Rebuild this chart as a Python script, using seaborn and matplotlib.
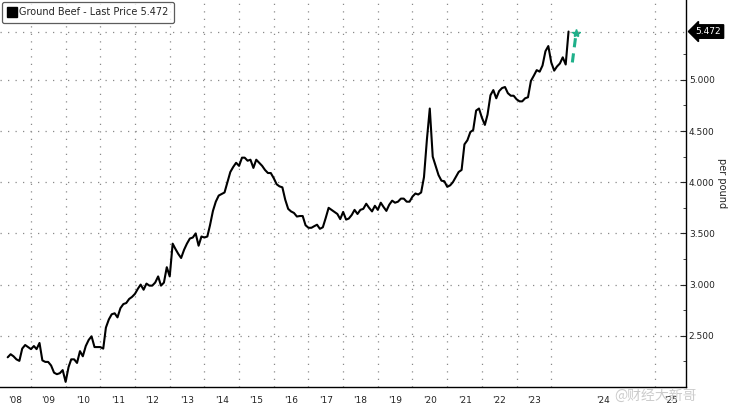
import pandas as pd
import matplotlib
matplotlib.use("Agg")
import matplotlib.pyplot as plt
import matplotlib.dates as mdates
from matplotlib.lines import Line2D
import seaborn as sns

# monthly average price, US city average, ground beef ($ per pound)
start_month = "2008-05-01"
beef_price = [
    2.29, 2.32, 2.30, 2.27, 2.255, 2.375, 2.41, 2.39, 2.37, 2.40, 2.37, 2.43,
    2.26, 2.245, 2.245, 2.21, 2.14, 2.125, 2.135, 2.165, 2.05, 2.195, 2.27, 2.27,
    2.235, 2.35, 2.30, 2.40, 2.46, 2.495, 2.39, 2.39, 2.39, 2.375, 2.58, 2.66,
    2.71, 2.72, 2.68, 2.77, 2.81, 2.82, 2.86, 2.88, 2.91, 2.96, 3.00, 2.95,
    3.01, 2.99, 2.99, 3.02, 3.08, 2.99, 3.02, 3.17, 3.08, 3.40, 3.35, 3.30,
    3.26, 3.34, 3.40, 3.45, 3.46, 3.50, 3.38, 3.47, 3.46, 3.47, 3.58, 3.72,
    3.81, 3.87, 3.885, 3.90, 4.00, 4.10, 4.15, 4.19, 4.16, 4.24, 4.24, 4.21,
    4.22, 4.14, 4.22, 4.19, 4.16, 4.12, 4.09, 4.09, 4.04, 3.98, 3.96, 3.95,
    3.83, 3.74, 3.715, 3.70, 3.665, 3.67, 3.67, 3.58, 3.555, 3.555, 3.57, 3.585,
    3.545, 3.56, 3.65, 3.75, 3.73, 3.71, 3.69, 3.64, 3.71, 3.635, 3.645, 3.68,
    3.73, 3.69, 3.73, 3.74, 3.79, 3.75, 3.715, 3.77, 3.73, 3.80, 3.76, 3.72,
    3.78, 3.82, 3.80, 3.81, 3.84, 3.84, 3.81, 3.81, 3.86, 3.89, 3.88, 3.90,
    4.05, 4.42, 4.72, 4.25, 4.16, 4.07, 4.015, 4.01, 3.955, 3.97, 4.00, 4.05,
    4.10, 4.12, 4.37, 4.41, 4.49, 4.51, 4.70, 4.72, 4.63, 4.56, 4.66, 4.85,
    4.90, 4.82, 4.89, 4.92, 4.93, 4.87, 4.845, 4.845, 4.81, 4.79, 4.79, 4.82,
    4.83, 4.99, 5.04, 5.095, 5.08, 5.14, 5.28, 5.33, 5.17, 5.09, 5.13, 5.16,
    5.22, 5.15, 5.472,
]
last_price = 5.472
forecast_price = [5.17, 5.46]

y_ticks = [2.5, 3.0, 3.5, 4.0, 4.5, 5.0]
year_labels = ["'08", "'09", "'10", "'11", "'12", "'13", "'14", "'15", "'16",
               "'17", "'18", "'19", "'20", "'21", "'22", "'23", "'24", "'25"]
# year separators (the chart stretches the space after 2024)
year_bounds = [f"{y}-01-01" for y in range(2009, 2025)] + ["2027-01-01"]
x_range = ("2008-02-10", "2027-11-20")

df = pd.DataFrame({
    "date": pd.date_range(start_month, periods=len(beef_price), freq="MS"),
    "price": beef_price,
})

sns.set_style("white")
plt.rcParams["font.family"] = ["DejaVu Sans"]

fig = plt.figure(figsize=(7.32, 4.12), dpi=100)
ax = fig.add_axes([0.0, 0.0607, 0.9372, 0.9393])

sns.lineplot(data=df, x="date", y="price", color="black", linewidth=1.5, ax=ax, legend=False)

# green dashed arrow after the last print
last_date = df["date"].iloc[-1]
fx = [last_date + pd.Timedelta(days=40), last_date + pd.Timedelta(days=80)]
ax.plot(fx, forecast_price, color="#1fb08a", lw=2.2, ls=(0, (3, 2)))
ax.plot(fx[1], forecast_price[1], marker="*", color="#1fb08a", ms=6)

ax.set_xlim(pd.Timestamp(x_range[0]), pd.Timestamp(x_range[1]))
ax.set_ylim(2.0, 5.78)

# x axis: long separators between years, quarter ticks inside
ax.set_xticks([pd.Timestamp(d) for d in year_bounds])
ax.set_xticklabels([])
ax.xaxis.set_minor_locator(mdates.MonthLocator(bymonth=[4, 7, 10]))
ax.tick_params(axis="x", which="major", direction="out", length=17, width=0.8, color="#444444")
ax.tick_params(axis="x", which="minor", direction="in", length=2.5, width=0.6, color="#444444")

edges = [mdates.date2num(pd.Timestamp(x_range[0]))] + \
        [mdates.date2num(pd.Timestamp(d)) for d in year_bounds] + \
        [mdates.date2num(pd.Timestamp(x_range[1]))]
for i, lab in enumerate(year_labels):
    ax.text((edges[i] + edges[i + 1]) / 2, -0.036, lab, transform=ax.get_xaxis_transform(),
            ha="center", va="center", fontsize=6.5, color="#222222")

# y axis on the right
ax.yaxis.tick_right()
ax.set_yticks(y_ticks)
ax.set_yticklabels([f"{v:.3f}" for v in y_ticks])
ax.set_yticks([v + 0.25 for v in [2.0] + y_ticks], minor=True)
ax.tick_params(axis="y", which="major", direction="in", length=4, width=0.8, pad=2,
               labelsize=6.5, labelcolor="#222222")
ax.tick_params(axis="y", which="minor", direction="in", length=2.5, width=0.6)
ax.set_xlabel("")
ax.set_ylabel("")

grid_style = dict(color="#8a8a8a", linestyle=(0, (1, 5)), linewidth=0.9)
ax.grid(axis="both", which="major", **grid_style)
ax.axhline(last_price, **grid_style)

for side in ["left", "top"]:
    ax.spines[side].set_visible(False)
for side in ["right", "bottom"]:
    ax.spines[side].set_color("black")
    ax.spines[side].set_linewidth(1.0)

# last price tag
ax.annotate(f"{last_price:.3f}", xy=(1.0, last_price), xycoords=ax.get_yaxis_transform(),
            xytext=(7, 0), textcoords="offset points", ha="left", va="center",
            fontsize=6.5, color="white",
            bbox=dict(boxstyle="larrow,pad=0.25", fc="black", ec="black"))

fig.text(0.986, 0.556, "per pound", rotation=270, ha="center", va="center",
         fontsize=7, color="#222222")

handle = Line2D([], [], marker="s", color="black", ls="none", markersize=6.5)
leg = ax.legend([handle], [f"Ground Beef - Last Price {last_price:.3f}"], loc="upper left",
                bbox_to_anchor=(0.0, 1.0), borderaxespad=0.2, fontsize=7, frameon=True,
                fancybox=True, edgecolor="#333333", handletextpad=0.25, handlelength=1.0,
                borderpad=0.55)
leg.get_frame().set_linewidth(0.9)

fig.text(0.895, 0.04, "@财经大新哥", fontsize=10, color="#cccccc", ha="center", va="center",
         family=["Noto Sans CJK SC", "DejaVu Sans"])

plt.savefig("out.png", dpi=100)
